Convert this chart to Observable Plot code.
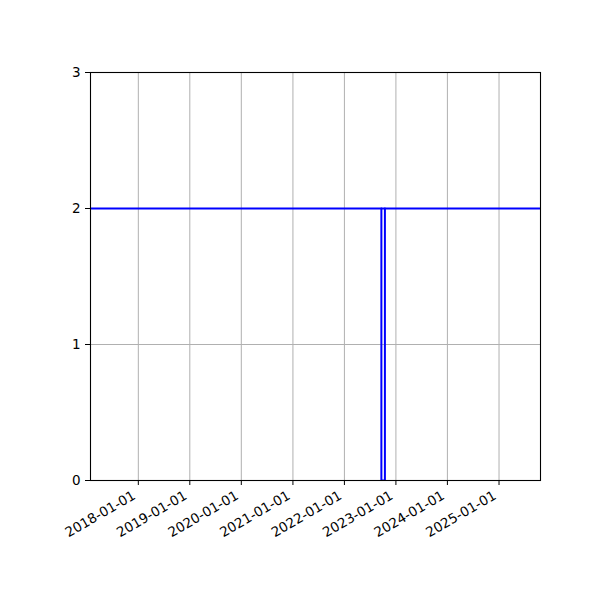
<!DOCTYPE html>
<html>
<head>
<meta charset="utf-8">
<script src="https://cdn.jsdelivr.net/npm/d3@7"></script>
<script src="https://cdn.jsdelivr.net/npm/@observablehq/plot@0.6"></script>
<style>
  html, body { margin: 0; padding: 0; background: #fff; }
  #chart { width: 600px; height: 600px; }
</style>
</head>
<body>
<div id="chart"></div>
<script>
// constant level series
const levelDates = ["2017-01-27", "2025-10-22"];
const levelValues = [2, 2];
// dip series
const dipDates = ["2022-09-20", "2022-09-20", "2022-10-15", "2022-10-15"];
const dipValues = [2, 0, 0, 2];
const xDomain = ["2017-01-27", "2025-10-22"];
const yTicks = [0, 1, 2, 3];
const xTicks = ["2018-01-01", "2019-01-01", "2020-01-01", "2021-01-01", "2022-01-01", "2023-01-01", "2024-01-01", "2025-01-01"];

const data = [
  ...levelDates.map((d, i) => ({series: "level", date: new Date(d), value: levelValues[i]})),
  ...dipDates.map((d, i) => ({series: "dip", date: new Date(d), value: dipValues[i]}))
];
const xt = xTicks.map(d => new Date(d));

const chart = Plot.plot({
  width: 600,
  height: 600,
  marginLeft: 90,
  marginRight: 60,
  marginTop: 72,
  marginBottom: 120,
  style: {fontFamily: "DejaVu Sans", fontSize: "13.5px", background: "#fff", color: "#000"},
  x: {type: "utc", domain: xDomain.map(d => new Date(d))},
  y: {domain: [0, 3]},
  marks: [
    Plot.gridX(xt, {stroke: "#b0b0b0", strokeOpacity: 1, strokeWidth: 1}),
    Plot.gridY(yTicks, {stroke: "#b0b0b0", strokeOpacity: 1, strokeWidth: 1}),
    Plot.line(data, {x: "date", y: "value", z: "series", stroke: "#0000ff", strokeWidth: 2, clip: true}),
    Plot.frame({stroke: "#000", strokeWidth: 1.1}),
    Plot.axisX(xt, {tickFormat: () => "", tickSize: 5, label: null}),
    Plot.axisX(xt, {tickFormat: d3.utcFormat("%Y-%m-%d"), tickRotate: -30, tickSize: 0, tickPadding: 10, dx: -4, dy: 4, label: null, fontSize: 13.5}),
    Plot.axisY(yTicks, {tickFormat: d => String(d), tickSize: 5, tickPadding: 5, label: null, fontSize: 13.5})
  ]
});
document.getElementById("chart").appendChild(chart);
</script>
</body>
</html>
